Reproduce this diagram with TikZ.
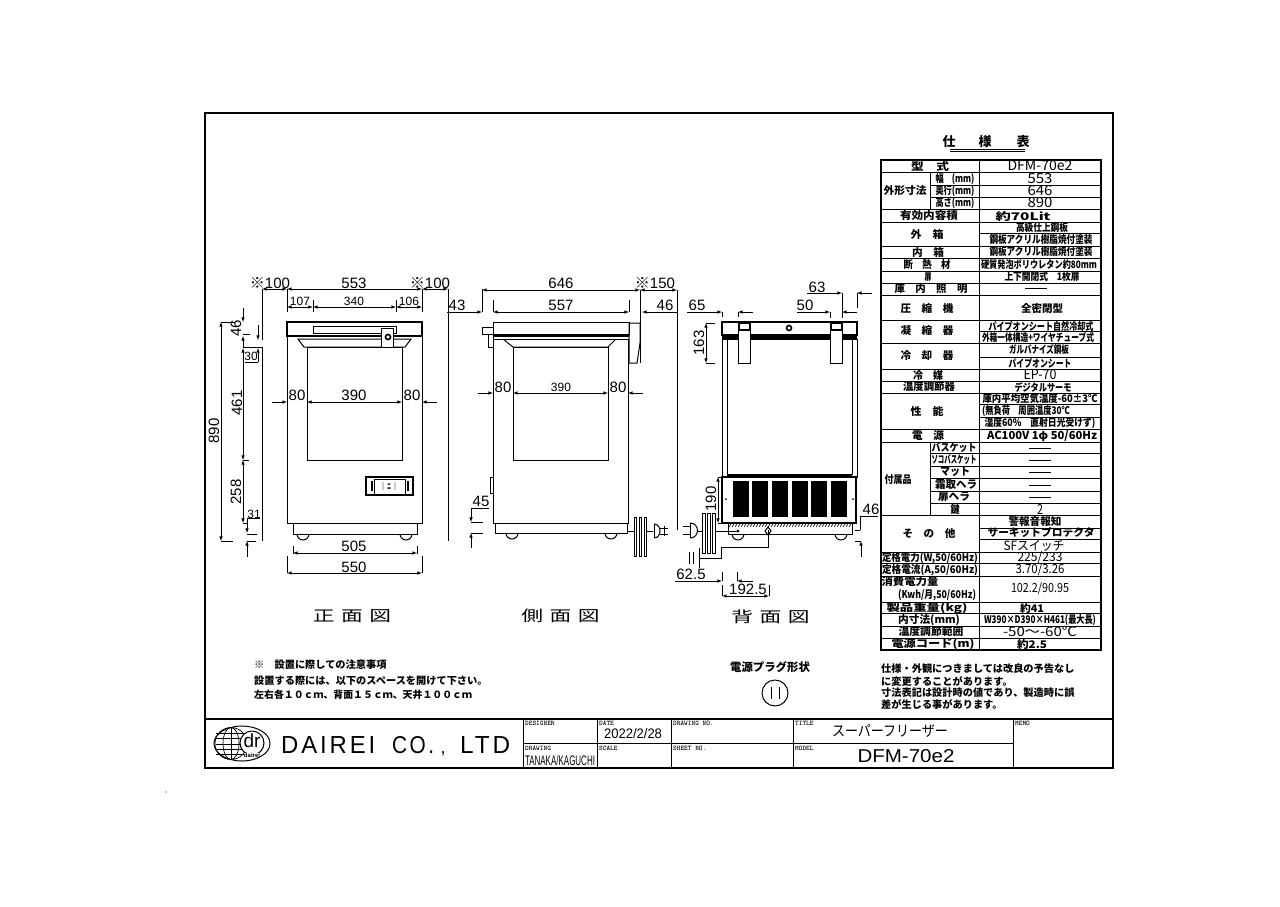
\documentclass[tikz,border=0pt]{standalone}
\usepackage{fontspec}
\setmainfont{Liberation Sans}
\newfontfamily\cjk{Noto Sans CJK JP}
\newfontfamily\spaced[LetterSpace=12]{Liberation Sans}
\newcommand{\fitbold}[2]{\resizebox{#1pt}{9pt}{\cjk\bfseries #2}}
\newcommand{\fitthin}[2]{\resizebox{#1pt}{10pt}{\cjk #2}}
\tikzset{
  part/.style={line width=1pt},
  heavy/.style={line width=1.6pt},
  dim/.style={line width=.6pt,>=latex},
  dimtxt/.style={font=\fontsize{15}{15}\selectfont,inner sep=0pt},
  dimsmall/.style={font=\fontsize{12}{12}\selectfont,inner sep=0pt},
  smalltxt/.style={font=\fontsize{7}{7}\selectfont\ttfamily\bfseries,inner sep=0pt,anchor=west},
  cell/.style={inner sep=0pt},
  note/.style={font=\fontsize{10.2}{11}\selectfont\cjk\bfseries,inner sep=0pt,anchor=west},
  viewname/.style={font=\fontsize{15}{15}\selectfont\cjk,inner sep=0pt,xscale=1.45},
}
\begin{document}
\begin{tikzpicture}[x=1pt,y=-1pt]
\useasboundingbox (0,0) rectangle (1280,906);
% frame and title block
\draw[heavy](205,113) rectangle (1113,768);
\draw[heavy](205,719)--(1113,719);
\foreach \x in {523,597,671,793,1013}
    \draw[part](\x,719)--(\x,768);
\draw[part](523,743)--(1013,743);
\fill (166,792) circle (.6pt);
% logo
\draw[part](242,743.5) ellipse (28pt and 17.5pt);
\draw[line width=.7pt](231,743.5) circle (16pt);
\draw[line width=.7pt](231,743.5) ellipse (8pt and 16pt);
\draw[line width=.7pt](231,727.5)--(231,759.5);
\foreach \y in {733,738,744,749,754}
    \draw[line width=.7pt](216,\y)--(246,\y);
\draw[part,fill=white](252,743) circle (12pt);
\node[inner sep=0pt] (logodr) at (252,741){\fontsize{19}{19}\selectfont dr};
\node[inner sep=0pt,fill=white] (logoname) at (252,755){\fontsize{6}{6}\selectfont\bfseries dairei};
% company name
\node[cell,anchor=west] (coname) at (281,745){\resizebox{94pt}{17pt}{\spaced DAIREI}};
\node[cell,anchor=west] (coco) at (392,745){\resizebox{42pt}{17pt}{\spaced CO.}};
\node[cell,anchor=base] (cocomma) at (443,753){\fontsize{18}{18}\selectfont ,};
\node[cell,anchor=west] (coltd) at (460,745){\resizebox{50pt}{17pt}{\spaced LTD}};
% title block texts
\foreach \x/\y/\t in {525/723/DESIGNER,599/723/DATE,673/723/{DRAWING NO.},795/723/TITLE,1015/723/MEMO,525/748/DRAWING,599/748/SCALE,673/748/{SHEET NO.},795/748/MODEL}
    \node[smalltxt] (tb\x-\y) at (\x,\y){\t};
\node[cell] (dateval) at (633,734){\resizebox{58pt}{10pt}{2022/2/28}};
\node[cell] (drawer) at (560,761){\resizebox{70pt}{10pt}{TANAKA/KAGUCHI}};
\node[cell] (titleval) at (890,731){\resizebox{116pt}{12pt}{\cjk スーパーフリーザー}};
\node[cell] (modelval) at (906,756){\resizebox{97pt}{13pt}{DFM-70e2}};
% notes
\node[note] (n1) at (254,665){※\quad 設置に際しての注意事項};
\node[note] (n2) at (254,681){設置する際には、以下のスペースを開けて下さい。};
\node[note,font=\fontsize{9.9}{11}\selectfont\cjk\bfseries] (n3) at (254,695){左右各１０ｃｍ、背面１５ｃｍ、天井１００ｃｍ};
\node[note,anchor=center,font=\fontsize{11.4}{12}\selectfont\cjk\bfseries] (plug) at (770,667){電源プラグ形状};
\draw[part](775,693) circle (13pt);
\draw[part](771,687)--(771,699);
\draw[part](779,687)--(779,699);
\node[note] (n4) at (881,669){仕様・外観につきましては改良の予告なし};
\node[note] (n5) at (881,682){に変更することがあります。};
\node[note] (n6) at (881,693){寸法表記は設計時の値であり、製造時に誤};
\node[note] (n7) at (881,705){差が生じる事があります。};
% spec table rules
\node[cell] (st1) at (949,142){\fontsize{13}{13}\selectfont\cjk\bfseries 仕};
\node[cell] (st2) at (985,142){\fontsize{13}{13}\selectfont\cjk\bfseries 様};
\node[cell] (st3) at (1023,142){\fontsize{13}{13}\selectfont\cjk\bfseries 表};
\draw[part](950,149.5)--(1025,149.5);
\draw[part](950,151.5)--(1025,151.5);
\draw[heavy](881,160) rectangle (1101,650);
\foreach \y in {172,209,222,246,258,271,283,295,320,343,369,381,393,429,442,515,552,563,576,602,613,626,638}
    \draw[part](881,\y)--(1101,\y);
\foreach \y in {185,197,453,466,478,491,503}
    \draw[part](930,\y)--(1101,\y);
\foreach \y in {233,331,357,404,417,528,539}
    \draw[part](979,\y)--(1101,\y);
\draw[part](979,160)--(979,650);
\draw[part](930,172)--(930,209);
\draw[part](930,442)--(930,515);
% left column of the table
\foreach \x/\y/\w/\t in {930/166/38/{型　式},955/179/39/{幅　(mm)},955/191/39/{奥行(mm)},955/203/39/{高さ(mm)},
  905/191/43/{外形寸法},929/216/58/{有効内容積},927/234/33/{外　箱},928/252/32/{内　箱},
  927/265/47/{断　熱　材},928/277/7/{扉},931/289/73/{庫　内　照　明},927/308/53/{圧　縮　機},
  927/331/53/{凝　縮　器},927/356/53/{冷　却　器},928/375/30/{冷　媒},929/387/52/{温度調節器},
  927/411/33/{性　能},928/436/32/{電　源},898/480/27/{付属品},954/448/45/{バスケット},
  954/460/45/{ソコバスケット},955/472/30/{マット},956/485/42/{霜取ヘラ},954/497/32/{扉ヘラ},955/509/9/{鍵},
  929/533/53/{そ　の　他},930/558/96/{定格電力(W,50/60Hz)},930/570/96/{定格電流(A,50/60Hz)},
  910/582/57/{消費電力量},937/595/78/{(Kwh/月,50/60Hz)},927/608/81/{製品重量(kg)},
  929/620/62/{内寸法(mm)},931/632/65/{温度調節範囲},933/644/83/{電源コード(m)}}
    \node[cell] (lab\y-\x) at (\x,\y){\fitbold{\w}{\t}};
% right column of the table
\foreach \x/\y/\w/\t in {1040/166/65/{DFM-70e2},1040/179/25/{553},1040/191/25/{646},1040/203/25/{890},
  1040/558/45/{225/233},1040/570/49/{3.70/3.26},1040/589/58/{102.2/90.95},
  1040/632/74/{-50～-60℃},1040/375/33/{EP-70},1040/509/6/{2},1034/546/61/{SFスイッチ}}
    \node[cell] (val\y-\x) at (\x,\y){\fitthin{\w}{\t}};
\foreach \x/\y/\w/\t in {1023/216/55/{約70Lit},1042/228/52/{高級仕上鋼板},1041/240/103/{鋼板アクリル樹脂焼付塗装},
  1041/252/103/{鋼板アクリル樹脂焼付塗装},1039/265/116/{硬質発泡ポリウレタン約80mm},1042/277/75/{上下開閉式　1枚扉},
  1042/308/42/{全密閉型},1041/326/105/{パイプオンシート自然冷却式},1038/337/112/{外箱一体構造+ワイヤチューブ式},
  1039/350/60/{ガルバナイズ鋼板},1040/363/63/{パイプオンシート},1043/387/57/{デジタルサーモ},
  1040/399/115/{庫内平均空気温度-60±3℃},1026/411/88/{(無負荷　周囲温度30℃},1040/423/111/{湿度60\%　直射日光受けず)},
  1042/436/110/{AC100V 1φ 50/60Hz},1035/521/53/{警報音報知},1041/533/107/{サーキットプロテクタ},
  1032/608/24/{約41},1040/620/112/{W390×D390×H461(最大長)},1032/644/30/{約2.5}}
    \node[cell] (vb\y-\x) at (\x,\y){\fitbold{\w}{\t}};
\foreach \x/\y in {1036/288,1040/448,1040/460,1040/472,1040/485,1040/497}
    \draw[part](\x-11,\y)--(\x+11,\y);
% front view
\draw[part](287,336) rectangle (422,523);
\draw[heavy](287,322) rectangle (422,336);
\draw[part](293,523) rectangle (417,534);
\foreach \x in {303,406}
    \draw[part](\x-6,534) arc[start angle=180,end angle=360,radius=6pt];
\draw[part](307,347) rectangle (402,460);
\draw[part](298,339)--(304,347)--(405,347)--(411,339)--cycle;
\draw[part](313,326) rectangle (396,333);
\draw[part,fill=white](381,328) rectangle (393,347);
\draw[heavy](388,337) circle (2.5pt);
\draw[heavy](366,477) rectangle (413,495);
\draw[part](374,479) rectangle (405,494);
\foreach \x in {372,408}
    \fill (\x-1,481) rectangle (\x+1,491);
\node[cell] (ctrl) at (389,486){\fontsize{8}{8}\selectfont\cjk\bfseries ｜ﾆ｜};
% dimensions of the front view
\foreach \xa/\ya/\xb/\yb in {262/289/287/289,287/289/422/289,422/289/448/289,287/307/313/307,313/307/396/307,396/307/422/307,
  307/402/402/402,293/553/417/553,287/573/422/573,243/348/243/460,243/460/243/523,221/322/221/541}
    \draw[dim,<->](\xa,\ya)--(\xb,\yb);
\foreach \xa/\ya/\xb/\yb in {272/402/287/402,437/402/422/402,243/308/243/322,243/348/243/336,258/325/258/340,258/362/258/348,247/518/247/533,247/557/247/541}
    \draw[dim,->](\xa,\ya)--(\xb,\yb);
\foreach \xa/\ya/\xb/\yb in {262/289/262/340,262/347/262/541,287/289/287/312,422/289/422/312,313/300/313/312,396/300/396/312,
  221/322/235/322,221/541/233/541,243/334/250/334,243/347/262/347,245/362/258/362,243/460/249/460,243/523/247/523,247/518/260/518,
  247/534/257/534,247/541/256/541,293/546/293/554,417/546/417/554,287/556/287/573,422/556/422/573}
    \draw[dim](\xa,\ya)--(\xb,\yb);
\foreach \x/\y/\t in {270/283/{{\cjk ※}100},354/283/553,430/283/{{\cjk ※}100},297/395/80,354/395/390,412/395/80,354/546/505,354/567/550}
    \node[dimtxt] (fd\x-\y) at (\x,\y){\t};
\foreach \x/\y/\t in {300/301/107,354/301/340,409/301/106,254/514/31,251/356/30}
    \node[dimsmall] (fs\x-\y) at (\x,\y){\t};
\foreach \x/\y/\t in {214/431/890,236/328/46,237/403/461,236/492/258}
    \node[dimtxt,rotate=90] (fr\x-\y) at (\x,\y){\t};
\node[viewname] (front) at (352,616){正\hspace{.3em}面\hspace{.3em}図};
% side view
\draw[part](493,339) rectangle (628,523);
\draw[part](493,322) rectangle (629,334);
\fill (493,334) rectangle (629,337);
\draw[part](495,523) rectangle (627,533);
\foreach \x in {512,611}
    \draw[part](\x-6,533) arc[start angle=180,end angle=360,radius=6pt];
\draw[part](513,347) rectangle (608,460);
\draw[part](503,339)--(513,347)--(608,347)--(616,339);
\draw[part](482,327) rectangle (493,334);
\draw[part](488,334) rectangle (493,347);
\draw[part](629,323)--(640,323)--(640,343)--(637,363)--(629,363)--cycle;
\draw[part](490,477) rectangle (493,493);
\foreach \xa/\ya/\xb/\yb in {482/290/640/290,640/290/677/290,493/312/629/312,513/393/608/393}
    \draw[dim,<->](\xa,\ya)--(\xb,\yb);
\foreach \xa/\ya/\xb/\yb in {447/312/482/312,677/312/642/312,478/393/493/393,643/393/628/393,471/508/471/522,471/548/471/533}
    \draw[dim,->](\xa,\ya)--(\xb,\yb);
\foreach \xa/\ya/\xb/\yb in {448/289/448/541,482/289/482/312,640/290/640/363,677/290/677/530,493/300/493/312,629/300/629/312,
  471/508/489/508,471/522/483/522,471/533/483/533}
    \draw[dim](\xa,\ya)--(\xb,\yb);
\foreach \x/\y/\t in {561/283/646,655/283/{{\cjk ※}150},561/305/557,457/305/43,665/305/46,503/387/80,618/387/80,481/501/45}
    \node[dimtxt] (sd\x-\y) at (\x,\y){\t};
\node[dimsmall] (sd390) at (561,387){390};
% cord and plug of the side view
\draw[part](628,531)--(634,531);
\foreach \x in {634,639,644}
    \draw[part](\x,517) rectangle (\x+2,556);
\draw[part](646,531)--(653,531);
\draw[part](654,524)--(654,538);
\draw[part](654,524) .. controls (662,524) and (662,538) .. (654,538);
\draw[part](660,528)--(668,528);
\draw[part](660,534)--(668,534);
\draw[part](664,526)--(664,536);
\node[viewname] (side) at (560.5,616){側\hspace{.3em}面\hspace{.3em}図};
% back view
\draw[part](722,339) rectangle (857,477);
\draw[part](727,339)--(727,475);
\draw[part](852,339)--(852,475);
\draw[heavy](727,475)--(852,475);
\draw[heavy](722,322) rectangle (857,335);
\fill (722,335) rectangle (857,339);
\draw[heavy](722,477) rectangle (856,523);
\draw[part](728,523) rectangle (852,534);
\foreach \x in {738,841}
    \draw[part](\x-6,534) arc[start angle=180,end angle=360,radius=6pt];
\foreach \x in {733,752,772,792,811,831}
    \fill (\x,481) rectangle (\x+15.5,517);
\foreach \x in {726,853}
    \fill (\x,499) circle (1pt);
\foreach \x in {729,732,...,850}
    \draw[line width=.6pt](\x,527)--(\x+2,524);
\foreach \x in {738,830}
{
    \draw[part,fill=white](\x,323) rectangle (\x+12,363);
    \draw[part](\x,330)--(\x+12,330);
    \draw[part](\x+1,323) rectangle (\x+11,329);
}
\draw[heavy](789,328) circle (2.5pt);
\foreach \xa/\ya/\xb/\yb in {706/323/706/363,718/477/718/523,722/596/769/596}
    \draw[dim,<->](\xa,\ya)--(\xb,\yb);
\foreach \xa/\ya/\xb/\yb in {687/312/722/312,753/312/738/312,797/312/830/312,807/293/842/293,872/293/857/293,857/312/842/312,675/581/722/581,753/581/737/581}
    \draw[dim,->](\xa,\ya)--(\xb,\yb);
\foreach \xa/\ya/\xb/\yb in {722/312/722/317,738/312/738/317,830/312/830/318,842/293/842/318,857/293/857/308,706/323/715/323,706/363/715/363,
  718/477/723/477,718/523/723/523,860/516/878/516,860/516/860/530,855/530/860/530,855/541/861/541,722/572/722/581,737/572/737/581,
  722/585/722/596,769/585/769/596}
    \draw[dim](\xa,\ya)--(\xb,\yb);
\draw[dim,->](861,557)--(861,541);
\foreach \x/\y/\t in {697/305/65,805/305/50,817/287/63,871/509/46,691/574/{62.5},748/589/{192.5}}
    \node[dimtxt] (bd\x-\y) at (\x,\y){\t};
\foreach \x/\y/\t in {699/343/163,711/499/190}
    \node[dimtxt,rotate=90] (br\x-\y) at (\x,\y){\t};
% cord and plug of the back view
\draw[part](683,526)--(690,526);
\draw[part](683,534)--(690,534);
\draw[part](690,523)--(690,538);
\draw[part](690,523) .. controls (700,523) and (700,538) .. (690,538);
\draw[part](697,531)--(702,531);
\foreach \x in {702,707,712}
    \draw[part](\x,513) rectangle (\x+3,553);
\draw[part](715,531)--(738,531);
\fill (738,531) circle (1.5pt);
\draw[part](728,527)--(728,534);
\draw[part](689,552)--(689,564);
\draw[part](693,552)--(693,564);
\draw[part](699,548)--(699,568);
\draw[part](699,558)--(721,558)--(721,547)--(768,547)--(768,530);
\draw[part](768,527)--(771,531)--(768,535)--(765,531)--cycle;
\node[viewname] (back) at (770.5,617){背\hspace{.3em}面\hspace{.3em}図};
\end{tikzpicture}
\end{document}
